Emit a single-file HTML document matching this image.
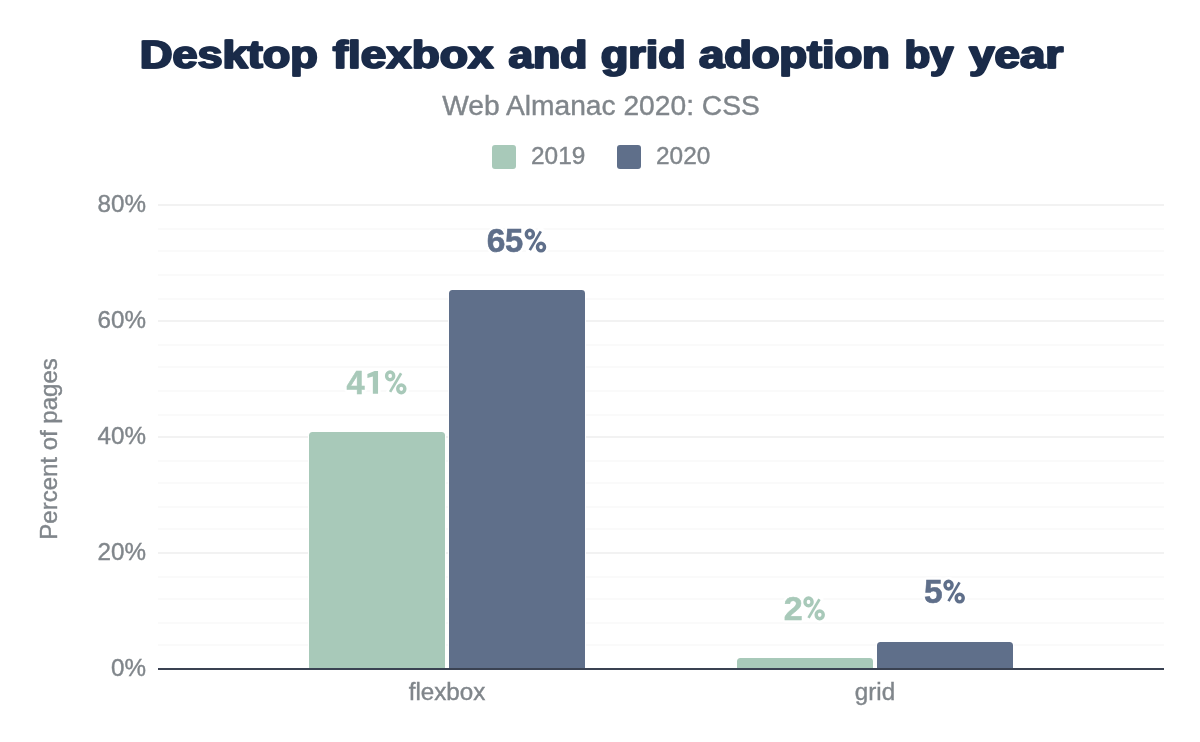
<!DOCTYPE html>
<html>
<head>
<meta charset="utf-8">
<title>Desktop flexbox and grid adoption by year</title>
<style>
  html, body { margin: 0; padding: 0; background: #ffffff; }
  body { width: 1200px; height: 742px; overflow: hidden; }
  svg { display: block; will-change: transform; }
  text { font-family: "Liberation Sans", sans-serif; }
  .title text { font-weight: bold; font-size: 38.5px; fill: #1a2b49; stroke: #1a2b49; stroke-width: 1.3px; stroke-linejoin: round; }
  .subtitle { font-size: 28.2px; fill: #80868b; stroke: #80868b; stroke-width: 0.4px; }
  .axis { font-size: 24.2px; fill: #80868b; stroke: #80868b; stroke-width: 0.4px; }
  .legend { font-size: 24.4px; fill: #80868b; stroke: #80868b; stroke-width: 0.4px; }
  .dl text { font-weight: bold; font-size: 32.3px; stroke-width: 0.5px; }
  .dlh text { font-weight: bold; font-size: 32.3px; fill: #ffffff; stroke: #ffffff; stroke-width: 5px; stroke-linejoin: round; }
</style>
</head>
<body>
<svg width="1200" height="742" viewBox="0 0 1200 742">
  <rect x="0" y="0" width="1200" height="742" fill="#ffffff"/>

  <defs>
    <g id="pct" fill="none">
      <ellipse cx="5.25" cy="-17.9" rx="3.55" ry="3.85" stroke-width="3.4"/>
      <ellipse cx="16.4" cy="-4.95" rx="3.55" ry="3.85" stroke-width="3.4"/>
      <line x1="16.2" y1="-20.6" x2="5.2" y2="-1.9" stroke-width="2.7"/>
    </g>
    <g id="pcth" fill="none">
      <ellipse cx="5.25" cy="-17.9" rx="3.55" ry="3.85" stroke-width="8.4"/>
      <ellipse cx="16.4" cy="-4.95" rx="3.55" ry="3.85" stroke-width="8.4"/>
      <line x1="16.2" y1="-20.6" x2="5.2" y2="-1.9" stroke-width="7.7" stroke-linecap="round"/>
    </g>
  </defs>

  <!-- title -->
  <g class="title">
    <text x="139.39" y="67.9" textLength="177.83" lengthAdjust="spacingAndGlyphs">Desktop</text>
    <text x="140.49" y="67.9" textLength="177.83" lengthAdjust="spacingAndGlyphs">Desktop</text>
    <text x="332.25" y="67.9" textLength="160.58" lengthAdjust="spacingAndGlyphs">flexbox</text>
    <text x="333.35" y="67.9" textLength="160.58" lengthAdjust="spacingAndGlyphs">flexbox</text>
    <text x="507.92" y="67.9" textLength="78.93" lengthAdjust="spacingAndGlyphs">and</text>
    <text x="509.02" y="67.9" textLength="78.93" lengthAdjust="spacingAndGlyphs">and</text>
    <text x="600.32" y="67.9" textLength="84.81" lengthAdjust="spacingAndGlyphs">grid</text>
    <text x="601.42" y="67.9" textLength="84.81" lengthAdjust="spacingAndGlyphs">grid</text>
    <text x="698.62" y="67.9" textLength="190.60" lengthAdjust="spacingAndGlyphs">adoption</text>
    <text x="699.72" y="67.9" textLength="190.60" lengthAdjust="spacingAndGlyphs">adoption</text>
    <text x="904.06" y="67.9" textLength="48.71" lengthAdjust="spacingAndGlyphs">by</text>
    <text x="905.16" y="67.9" textLength="48.71" lengthAdjust="spacingAndGlyphs">by</text>
    <text x="968.55" y="67.9" textLength="94.03" lengthAdjust="spacingAndGlyphs">year</text>
    <text x="969.65" y="67.9" textLength="94.03" lengthAdjust="spacingAndGlyphs">year</text>
  </g>
  <text class="subtitle" id="subtitle" x="601" y="115" text-anchor="middle">Web Almanac 2020: CSS</text>

  <!-- legend -->
  <rect x="492" y="145" width="24" height="24" rx="3" fill="#a8c9b9"/>
  <text class="legend" id="lg1" x="531" y="164">2019</text>
  <rect x="617" y="145" width="24" height="24" rx="3" fill="#5f6f8a"/>
  <text class="legend" id="lg2" x="656" y="164">2020</text>

  <!-- minor gridlines -->
  <g fill="#fafafa" shape-rendering="crispEdges">
    <rect x="158" y="228" width="1006" height="2"/>
    <rect x="158" y="250" width="1006" height="2"/>
    <rect x="158" y="274" width="1006" height="2"/>
    <rect x="158" y="298" width="1006" height="2"/>
    <rect x="158" y="344" width="1006" height="2"/>
    <rect x="158" y="366" width="1006" height="2"/>
    <rect x="158" y="390" width="1006" height="2"/>
    <rect x="158" y="414" width="1006" height="2"/>
    <rect x="158" y="460" width="1006" height="2"/>
    <rect x="158" y="482" width="1006" height="2"/>
    <rect x="158" y="506" width="1006" height="2"/>
    <rect x="158" y="528" width="1006" height="2"/>
    <rect x="158" y="576" width="1006" height="2"/>
    <rect x="158" y="598" width="1006" height="2"/>
    <rect x="158" y="622" width="1006" height="2"/>
    <rect x="158" y="644" width="1006" height="2"/>
  </g>
  <!-- major gridlines -->
  <g fill="#f2f2f2" shape-rendering="crispEdges">
    <rect x="158" y="204" width="1006" height="2"/>
    <rect x="158" y="320" width="1006" height="2"/>
    <rect x="158" y="436" width="1006" height="2"/>
    <rect x="158" y="552" width="1006" height="2"/>
  </g>

  <!-- bars -->
  <path d="M309 668 V435.5 a3.5 3.5 0 0 1 3.5 -3.5 H441.5 a3.5 3.5 0 0 1 3.5 3.5 V668 Z" fill="#a8c9b9" stroke="#ffffff" stroke-width="2" paint-order="stroke"/>
  <path d="M449 668 V293.5 a3.5 3.5 0 0 1 3.5 -3.5 H581.5 a3.5 3.5 0 0 1 3.5 3.5 V668 Z" fill="#5f6f8a" stroke="#ffffff" stroke-width="2" paint-order="stroke"/>
  <path d="M737 668 V661.5 a3.5 3.5 0 0 1 3.5 -3.5 H869.5 a3.5 3.5 0 0 1 3.5 3.5 V668 Z" fill="#a8c9b9" stroke="#ffffff" stroke-width="2" paint-order="stroke"/>
  <path d="M877 668 V645.5 a3.5 3.5 0 0 1 3.5 -3.5 H1009.5 a3.5 3.5 0 0 1 3.5 3.5 V668 Z" fill="#5f6f8a" stroke="#ffffff" stroke-width="2" paint-order="stroke"/>

  <!-- baseline -->
  <line x1="158" x2="1164" y1="669" y2="669" stroke="#3a4252" stroke-width="2"/>

  <!-- y labels -->
  <text class="axis" x="146" y="212.4" text-anchor="end">80%</text>
  <text class="axis" x="146" y="328.4" text-anchor="end">60%</text>
  <text class="axis" x="146" y="444.4" text-anchor="end">40%</text>
  <text class="axis" x="146" y="560.4" text-anchor="end">20%</text>
  <text class="axis" x="146" y="676.4" text-anchor="end">0%</text>

  <!-- y title -->
  <text class="axis" style="font-size:24px" transform="translate(57.2 449) rotate(-90)" text-anchor="middle">Percent of pages</text>

  <!-- x labels -->
  <text class="axis" x="447" y="700" text-anchor="middle">flexbox</text>
  <text class="axis" x="875" y="700" text-anchor="middle">grid</text>

  <!-- data labels -->
  <path d="M378.05 393.8 H372.85 V376.4 L367.4 378.1 V374.0 L374.6 371.1 H378.05 Z" fill="#ffffff" stroke="#ffffff" stroke-width="5" stroke-linejoin="round"/>
  <g class="dlh">
    <use href="#pcth" x="384.9" y="393.8" stroke="#ffffff"/>
    <use href="#pcth" x="524.6" y="252.0" stroke="#ffffff"/>
    <use href="#pcth" x="803.3" y="619.8" stroke="#ffffff"/>
    <use href="#pcth" x="943.3" y="603.0" stroke="#ffffff"/>
    <text x="346.58" y="393.8" textLength="18.05" lengthAdjust="spacingAndGlyphs">4</text>
    <text x="486.83" y="252.0" textLength="18.71" lengthAdjust="spacingAndGlyphs">6</text>
    <text x="505.04" y="252.0" textLength="18.21" lengthAdjust="spacingAndGlyphs">5</text>
    <text x="783.71" y="619.8" textLength="18.96" lengthAdjust="spacingAndGlyphs">2</text>
    <text x="924.08" y="603.0" textLength="18.67" lengthAdjust="spacingAndGlyphs">5</text>
  </g>
  <g class="dl">
    <use href="#pct" x="384.9" y="393.8" stroke="#a8c9b9"/>
    <use href="#pct" x="524.6" y="252.0" stroke="#5f6f8a"/>
    <use href="#pct" x="803.3" y="619.8" stroke="#a8c9b9"/>
    <use href="#pct" x="943.3" y="603.0" stroke="#5f6f8a"/>
    <path d="M378.05 393.8 H372.85 V376.4 L367.4 378.1 V374.0 L374.6 371.1 H378.05 Z" fill="#a8c9b9"/>
    <text x="346.58" y="393.8" textLength="18.05" lengthAdjust="spacingAndGlyphs" fill="#a8c9b9" stroke="#a8c9b9">4</text>
    <text x="486.83" y="252.0" textLength="18.71" lengthAdjust="spacingAndGlyphs" fill="#5f6f8a" stroke="#5f6f8a">6</text>
    <text x="505.04" y="252.0" textLength="18.21" lengthAdjust="spacingAndGlyphs" fill="#5f6f8a" stroke="#5f6f8a">5</text>
    <text x="783.71" y="619.8" textLength="18.96" lengthAdjust="spacingAndGlyphs" fill="#a8c9b9" stroke="#a8c9b9">2</text>
    <text x="924.08" y="603.0" textLength="18.67" lengthAdjust="spacingAndGlyphs" fill="#5f6f8a" stroke="#5f6f8a">5</text>
  </g>
</svg>
</body>
</html>
